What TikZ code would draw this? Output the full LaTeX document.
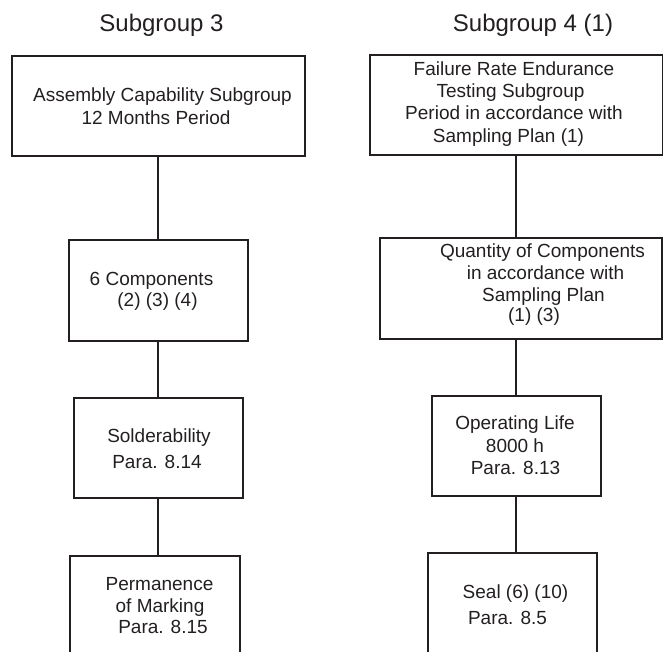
\documentclass[tikz,border=0pt]{standalone}
\usepackage{fontspec}
\setmainfont{Liberation Sans}
\definecolor{ink}{RGB}{35,31,32}
\begin{document}
\begin{tikzpicture}[x=1pt,y=-1pt,
  box/.style={draw=ink,line width=2pt,rectangle,inner sep=0pt,outer sep=0pt},
  txt/.style={anchor=base,inner sep=0pt,text=ink,font=\fontsize{19}{23}\selectfont},
  ttl/.style={anchor=base,inner sep=0pt,text=ink,font=\fontsize{24}{28}\selectfont},
  conn/.style={draw=ink,line width=2pt}]
\useasboundingbox (0,0) rectangle (663,651);
\clip (0,0) rectangle (663,651);
% titles
\node[ttl] (T3) at (161.5,31) {Subgroup 3};
\node[ttl] (T4) at (533,31) {Subgroup 4 (1)};
% left column boxes
\node[box,minimum width=293pt,minimum height=100pt] (A1) at (158,106) {};
\node[box,minimum width=179pt,minimum height=101pt] (A2) at (158,290.5) {};
\node[box,minimum width=169pt,minimum height=100pt] (A3) at (158,448) {};
\node[box,minimum width=170pt,minimum height=144pt] (A4) at (155,628) {};
% right column boxes
\node[box,minimum width=293pt,minimum height=100pt] (B1) at (516,105) {};
\node[box,minimum width=282pt,minimum height=101pt] (B2) at (521,288.5) {};
\node[box,minimum width=169pt,minimum height=100pt] (B3) at (516,446) {};
\node[box,minimum width=169pt,minimum height=147pt] (B4) at (512.5,626.5) {};
% connectors
\draw[conn] (A1.south) -- (A1.south |- A2.north);
\draw[conn] (A2.south -| A1.south) -- (A1.south |- A3.north);
\draw[conn] (A3.south -| A1.south) -- (A1.south |- A4.north);
\draw[conn] (B1.south) -- (B1.south |- B2.north);
\draw[conn] (B2.south -| B1.south) -- (B1.south |- B3.north);
\draw[conn] (B3.south -| B1.south) -- (B1.south |- B4.north);
% left texts
\node[txt] (L1a) at (162.5,101.5) {Assembly Capability Subgroup};
\node[txt] (L1b) at (156,124.5) {12 Months Period};
\node[txt] (L2a) at (151.5,285) {6 Components};
\node[txt] (L2b) at (157.5,306) {(2) (3) (4)};
\node[txt] (L3a) at (159,442) {Solderability};
\node[txt] (L3b) at (157,468) {Para. 8.14};
\node[txt] (L4a) at (159.5,590) {Permanence};
\node[txt] (L4b) at (160,612) {of Marking};
\node[txt] (L4c) at (163,633) {Para. 8.15};
% right texts
\node[txt] (R1a) at (514,75) {Failure Rate Endurance};
\node[txt] (R1b) at (510.5,97.5) {Testing Subgroup};
\node[txt] (R1c) at (514,119.5) {Period in accordance with};
\node[txt] (R1d) at (508.5,142) {Sampling Plan (1)};
\node[txt] (R2a) at (542.5,257) {Quantity of Components};
\node[txt] (R2b) at (545.5,279) {in accordance with};
\node[txt] (R2c) at (543.5,301) {Sampling Plan};
\node[txt] (R2d) at (534,321) {(1) (3)};
\node[txt] (R3a) at (515,429) {Operating Life};
\node[txt] (R3b) at (515,452) {8000 h};
\node[txt] (R3c) at (515.5,474) {Para. 8.13};
\node[txt] (R4a) at (515.5,598) {Seal (6) (10)};
\node[txt] (R4b) at (507.5,624) {Para. 8.5};
\end{tikzpicture}
\end{document}
